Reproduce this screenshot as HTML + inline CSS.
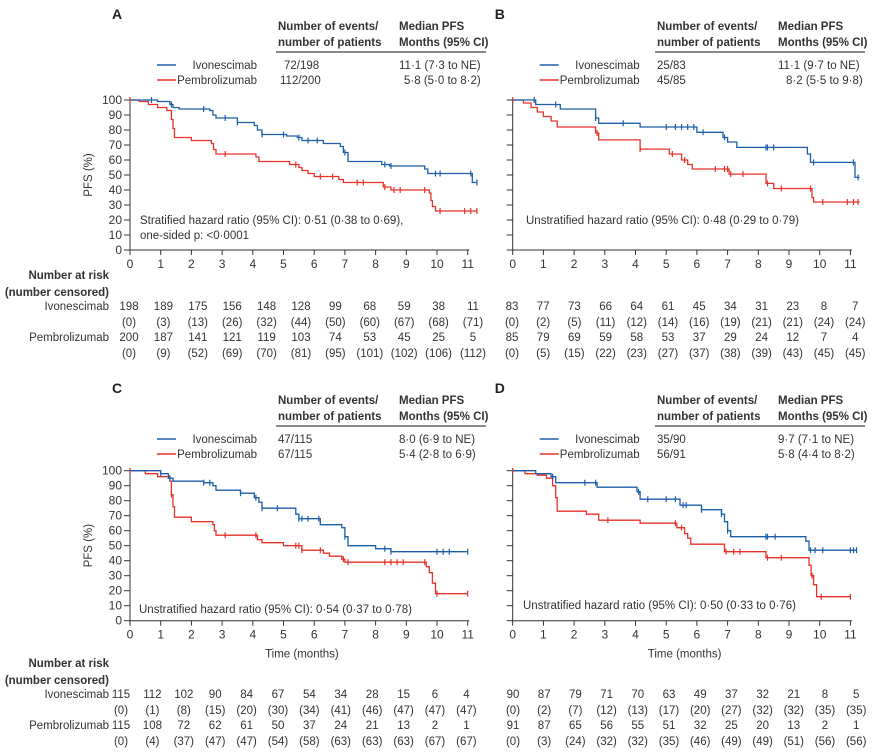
<!DOCTYPE html>
<html><head><meta charset="utf-8"><style>
html,body{margin:0;padding:0;background:#fff;}
svg{display:block;font-family:"Liberation Sans",sans-serif;}
</style></head><body>
<svg id="s" width="873" height="756" viewBox="0 0 873 756" xmlns="http://www.w3.org/2000/svg"></svg>
<script>
const S=document.getElementById('s');let h='';
const BLUE='#1d5ea8',RED='#e8312a',GR='#333';
function T(x,y,t,o){o=o||{};h+=`<text x="${x}" y="${y}" font-size="${o.fs||11.5}" fill="${o.c||GR}" text-anchor="${o.a||'start'}" ${o.b?'font-weight="bold"':''} ${o.tr?`transform="${o.tr}"`:''}>${t}</text>`;}
function L(x1,y1,x2,y2,c,w){h+=`<line x1="${x1}" y1="${y1}" x2="${x2}" y2="${y2}" stroke="${c||GR}" stroke-width="${w||1}"/>`;}
function panel(p){
 const x0=p.x0,yT=p.yT,yB=yT+150,k=30.7,ky=1.5;
 const X=t=>x0+t*k,Y=s=>yB-s*ky;
 T(x0-18,p.ly,p.L,{fs:14,b:1,c:'#222'});
 const hx=p.hx,mx=p.mx;
 T(hx,p.ly+11,'Number of events/',{b:1,fs:11.5});
 T(hx,p.ly+27,'number of patients',{b:1,fs:11.5});
 T(mx,p.ly+11,'Median PFS',{b:1,fs:11.5});
 T(mx,p.ly+27,'Months (95% CI)',{b:1,fs:11.5});
 L(hx-2,p.ly+33,p.re,p.ly+33,'#444',1.2);
 L(x0+27,p.ly+46,x0+46,p.ly+46,BLUE,1.5);
 L(x0+27,p.ly+61,x0+46,p.ly+61,RED,1.5);
 T(x0+127,p.ly+50,'Ivonescimab',{a:'end'});
 T(x0+127,p.ly+65,'Pembrolizumab',{a:'end'});
 T(p.ex1,p.ly+50,p.e1);T(p.ex2,p.ly+65,p.e2);
 T(p.mx1,p.ly+50,p.m1);T(p.mx2,p.ly+65,p.m2);
 L(x0,yT,x0,yB);L(x0,yB,X(11.05),yB);
 for(let i=0;i<=10;i++){L(x0-6,Y(i*10),x0,Y(i*10));if(p.yl)T(x0-8,Y(i*10)+4,i*10,{a:'end',fs:12});}
 for(let i=0;i<=11;i++){L(X(i),yB,X(i),yB+5);T(X(i),yB+18,i,{a:'middle',fs:12});}
 if(p.yl)T(0,0,'PFS (%)',{a:'middle',fs:11.5,tr:`translate(${x0-38},${yT+75}) rotate(-90)`});
 if(p.tm)T(X(5.6),yB+37,'Time (months)',{a:'middle',fs:11.5});
 p.hr.forEach((t,i)=>T(p.hrx,p.hry+i*15,t,{fs:11.5}));
 [[p.r,RED],[p.b,BLUE]].forEach(([c,col])=>{
  const d=c.d;let s=`M${X(0)},${Y(d[0][1])}`;
  for(let i=1;i<d.length;i++){s+=`H${X(d[i][0]).toFixed(1)}V${Y(d[i][1]).toFixed(1)}`;}
  s+=`H${X(c.e).toFixed(1)}`;
  h+=`<path d="${s}" fill="none" stroke="${col}" stroke-width="1.3"/>`;
  const val=t=>{let v=d[0][1];for(const q of d){if(q[0]<=t)v=q[1];}return v;};
  c.c.forEach(t=>L(X(t),Y(val(t))-3,X(t),Y(val(t))+3,col,1.2));
 });
 const ry=p.ry;
 if(p.yl){
  T(x0-21,ry,'Number at risk',{a:'end',b:1,fs:11.5});
  T(x0-21,ry+17,'(number censored)',{a:'end',b:1,fs:11.5});
 }
 const rows=[['Ivonescimab',p.n1,p.c1],['Pembrolizumab',p.n2,p.c2]];
 rows.forEach((r,j)=>{
  const yy=ry+31+j*31;
  if(p.yl)T(x0-21,yy,r[0],{a:'end'});
  r[1].forEach((v,i)=>T(p.tx+i*p.ts,yy,v,{a:'middle'}));
  r[2].forEach((v,i)=>T(p.tx+i*p.ts,yy+16,'('+v+')',{a:'middle'}));
 });
}
const A_b={d:[[0,100],[0.9,99],[1.3,97],[1.4,95],[1.6,94],[2.6,93],[2.7,90],[2.8,88],[3.5,85],[4.05,83],[4.15,80],[4.3,77],[5.1,76],[5.45,75],[5.6,73],[6.3,71],[6.85,69],[6.95,65],[7.1,59],[8.2,57],[8.45,56],[9.6,54],[9.7,51],[11.15,45]],e:11.3,c:[0.7,1.35,2.4,3.1,3.5,4.3,5.0,5.5,5.8,6.1,7.0,8.3,8.5,9.95,10.1,11.1,11.3]};
const A_r={d:[[0,100],[0.3,99],[0.6,97],[0.9,95],[1.2,93],[1.35,87],[1.4,81],[1.45,75],[2.0,73],[2.65,71],[2.72,67],[2.8,64],[4.1,62],[4.2,59],[5.2,57],[5.5,55],[5.6,53],[5.8,51],[6.0,49],[6.8,47],[6.95,45],[8.25,42],[8.5,40],[9.75,38],[9.8,33],[9.85,29],[9.95,26]],e:11.3,c:[0,3.1,5.4,6.2,6.6,7.4,7.6,8.3,8.6,8.8,9.6,10.1,10.9,11.1,11.3]};
const B_b={d:[[0,100],[0.75,97],[1.55,94],[2.7,88],[2.8,84.5],[4.15,82],[6.0,78.5],[6.85,75],[7.0,72],[7.3,68.4],[9.6,64],[9.7,58.4],[11.15,48.4]],e:11.3,c:[0.7,1.4,2.7,3.6,5.0,5.3,5.5,5.7,5.9,6.2,6.9,8.25,8.3,8.5,9.8,11.1,11.25]};
const B_r={d:[[0,100],[0.35,98],[0.6,95],[0.8,92],[1.0,89],[1.25,86],[1.45,82],[2.7,78],[2.8,73.4],[4.15,67.3],[5.1,64],[5.5,60],[5.7,57],[5.85,54],[7.05,50.6],[8.25,44.4],[8.5,41],[9.75,35],[9.8,32]],e:11.3,c:[0,2.75,4.15,5.2,5.6,6.6,6.9,7.0,7.1,7.5,8.3,8.75,9.7,10.1,10.9,11.1,11.25]};
const C_b={d:[[0,100],[1.0,98],[1.25,95],[1.4,93],[2.4,92],[2.7,90],[2.8,87],[3.6,85],[4.05,82],[4.2,79],[4.3,75],[5.4,71],[5.5,68],[6.2,64],[6.9,62],[7.0,56],[7.1,50],[8.0,48],[8.5,46]],e:11.0,c:[1.0,1.3,2.4,2.6,3.6,4.1,4.3,4.8,5.5,5.6,5.8,6.15,7.0,8.3,8.5,10.0,10.2,10.4,11.0]};
const C_r={d:[[0,100],[0.5,98],[0.9,96],[1.3,93],[1.35,84],[1.4,76],[1.45,69],[2.0,66],[2.7,64],[2.75,60],[2.8,57],[4.15,54],[4.3,52],[5.0,50],[5.6,47],[6.3,45],[6.5,43],[6.9,41],[7.0,39],[9.65,36],[9.75,32],[9.85,25],[9.95,18]],e:11.0,c:[0,1.35,3.1,4.1,5.4,5.5,5.6,6.2,6.95,7.1,8.3,8.5,8.7,8.9,9.6,10.0,11.0]};
const D_b={d:[[0,100],[0.75,98],[1.25,96],[1.4,92],[2.75,89],[4.05,86],[4.15,81],[5.45,77],[6.15,74],[6.8,71],[6.9,66],[7.0,60],[7.1,56],[9.55,53],[9.65,47]],e:11.2,c:[1.3,2.35,2.7,4.1,4.4,5.0,5.3,5.55,5.65,6.15,6.8,7.0,8.25,8.3,8.55,9.7,9.85,10.1,11.0,11.1,11.2]};
const D_r={d:[[0,100],[0.4,98],[0.8,97],[1.1,95],[1.3,90],[1.4,82],[1.45,73],[2.4,71],[2.8,67],[4.15,65],[5.35,62],[5.6,58],[5.7,55],[5.8,51],[6.9,46],[8.25,42],[9.65,37],[9.72,30],[9.8,24],[9.9,16]],e:11.0,c:[0,3.1,5.3,5.5,6.95,7.2,7.4,8.3,8.75,9.75,10.05,11.0]};
panel({x0:130,yT:100,L:'A',ly:19,hx:278,mx:399,re:486,ex1:284,e1:'72/198',ex2:280,e2:'112/200',mx1:399,m1:'11·1 (7·3 to NE)',mx2:404,m2:'5·8 (5·0 to 8·2)',yl:1,hrx:140,hry:224,hr:['Stratified hazard ratio (95% CI): 0·51 (0·38 to 0·69),','one-sided p: &lt;0·0001'],b:A_b,r:A_r,ry:279,tx:129,ts:34.4,
 n1:[198,189,175,156,148,128,99,68,59,38,11],c1:[0,3,13,26,32,44,50,60,67,68,71],n2:[200,187,141,121,119,103,74,53,45,25,5],c2:[0,9,52,69,70,81,95,101,102,106,112]});
panel({x0:512.7,yT:100,L:'B',ly:19,hx:657,mx:778,re:865,ex1:657,e1:'25/83',ex2:657,e2:'45/85',mx1:778,m1:'11·1 (9·7 to NE)',mx2:786,m2:'8·2 (5·5 to 9·8)',hrx:526,hry:224,hr:['Unstratified hazard ratio (95% CI): 0·48 (0·29 to 0·79)'],b:B_b,r:B_r,ry:279,tx:512,ts:31.2,
 n1:[83,77,73,66,64,61,45,34,31,23,8,7],c1:[0,2,5,11,12,14,16,19,21,21,24,24],n2:[85,79,69,59,58,53,37,29,24,12,7,4],c2:[0,5,15,22,23,27,37,38,39,43,45,45]});
panel({x0:130,yT:470.7,L:'C',ly:393,hx:278,mx:399,re:486,ex1:278,e1:'47/115',ex2:278,e2:'67/115',mx1:399,m1:'8·0 (6·9 to NE)',mx2:399,m2:'5·4 (2·8 to 6·9)',yl:1,tm:1,hrx:139,hry:613,hr:['Unstratified hazard ratio (95% CI): 0·54 (0·37 to 0·78)'],b:C_b,r:C_r,ry:667,tx:121,ts:31.4,
 n1:[115,112,102,90,84,67,54,34,28,15,6,4],c1:[0,1,8,15,20,30,34,41,46,47,47,47],n2:[115,108,72,62,61,50,37,24,21,13,2,1],c2:[0,4,37,47,47,54,58,63,63,63,67,67]});
panel({x0:512.7,yT:470.7,L:'D',ly:393,hx:657,mx:778,re:865,ex1:657,e1:'35/90',ex2:657,e2:'56/91',mx1:778,m1:'9·7 (7·1 to NE)',mx2:778,m2:'5·8 (4·4 to 8·2)',tm:1,hrx:523,hry:609,hr:['Unstratified hazard ratio (95% CI): 0·50 (0·33 to 0·76)'],b:D_b,r:D_r,ry:667,tx:513,ts:31.2,
 n1:[90,87,79,71,70,63,49,37,32,21,8,5],c1:[0,2,7,12,13,17,20,27,32,32,35,35],n2:[91,87,65,56,55,51,32,25,20,13,2,1],c2:[0,3,24,32,32,35,46,49,49,51,56,56]});
S.innerHTML=h;
</script>
</body></html>
